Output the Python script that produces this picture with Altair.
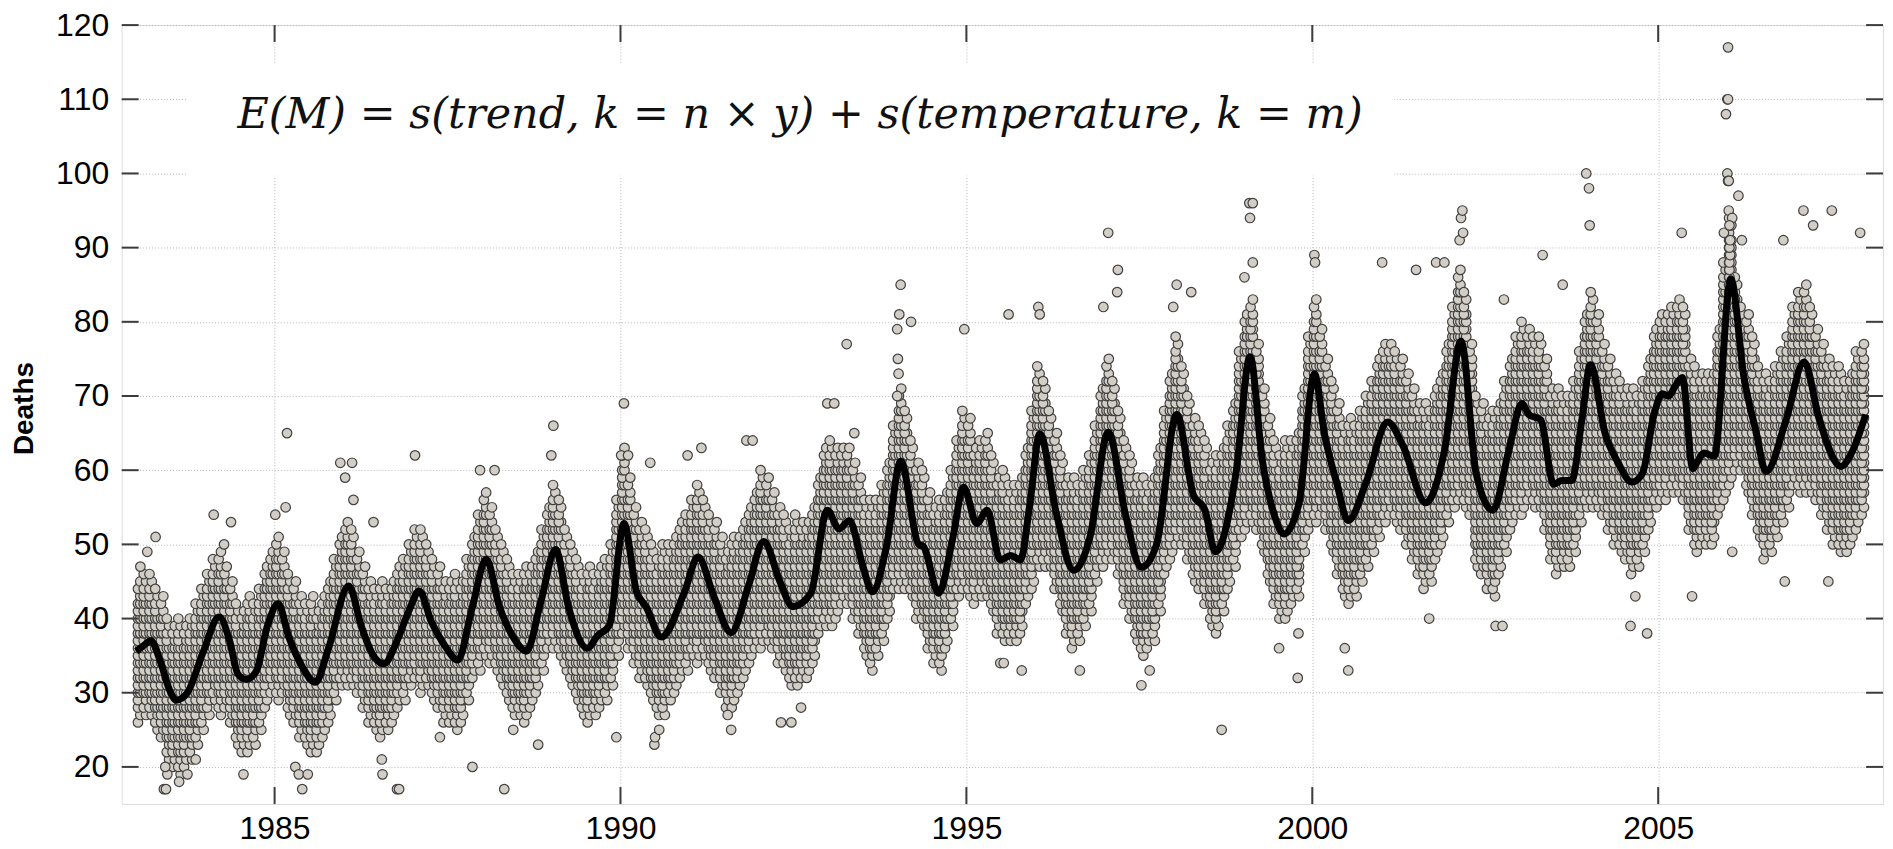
import altair as alt
import pandas as pd

# ---------------- data ----------------
# fitted smooth curve (knots)
line_year = [1983.00, 1983.10, 1983.21, 1983.36, 1983.48, 1983.58, 1983.74, 1983.96, 1984.20, 1984.35,
             1984.47, 1984.59, 1984.73, 1984.90, 1985.05, 1985.21, 1985.40, 1985.59, 1985.78, 1986.07,
             1986.26, 1986.41, 1986.58, 1986.77, 1986.94, 1987.09, 1987.27, 1987.45, 1987.65, 1987.85,
             1988.06, 1988.25, 1988.45, 1988.64, 1988.85, 1989.06, 1989.25, 1989.52, 1989.67, 1989.84,
             1990.05, 1990.23, 1990.37, 1990.59, 1990.93, 1991.12, 1991.35, 1991.60, 1991.85, 1992.07,
             1992.30, 1992.49, 1992.75, 1992.99, 1993.16, 1993.31, 1993.50, 1993.64, 1993.85, 1994.05,
             1994.31, 1994.38, 1994.60, 1994.80, 1994.96, 1995.15, 1995.30, 1995.49, 1995.64, 1995.78,
             1995.92, 1996.06, 1996.30, 1996.55, 1996.79, 1997.05, 1997.30, 1997.53, 1997.75, 1998.04,
             1998.28, 1998.45, 1998.60, 1998.90, 1999.10, 1999.28, 1999.45, 1999.59, 1999.81, 2000.03,
             2000.18, 2000.35, 2000.52, 2000.78, 2001.09, 2001.31, 2001.64, 2001.91, 2002.15, 2002.37,
             2002.61, 2002.84, 2003.03, 2003.13, 2003.30, 2003.49, 2003.61, 2003.75, 2003.90, 2004.02,
             2004.24, 2004.41, 2004.62, 2004.77, 2004.94, 2005.06, 2005.15, 2005.25, 2005.35, 2005.50,
             2005.57, 2005.66, 2005.81, 2006.05, 2006.24, 2006.41, 2006.56, 2006.85, 2007.11, 2007.33,
             2007.64, 2007.81, 2008.00]
line_deaths = [35.6, 36.3, 37.0, 33.9, 30.4, 29.0, 30.0, 35.3, 40.2, 37.0,
               32.5, 31.8, 32.8, 39.1, 42.0, 37.4, 33.5, 31.4, 36.0, 44.4,
               38.8, 35.3, 33.9, 37.0, 41.0, 43.7, 39.5, 36.5, 34.4, 41.2,
               48.0, 41.6, 37.5, 35.6, 42.3, 49.3, 41.5, 36.0, 37.7, 39.1,
               52.8, 43.7, 41.6, 37.5, 43.7, 48.3, 43.0, 38.1, 44.4, 50.4,
               45.1, 41.6, 43.4, 54.6, 52.1, 53.2, 47.2, 43.6, 50.0, 61.2,
               50.0, 49.7, 43.4, 50.7, 57.7, 52.8, 54.6, 47.9, 48.5, 47.9,
               55.6, 64.9, 54.2, 46.5, 51.1, 65.1, 54.0, 46.9, 50.0, 67.5,
               56.7, 54.6, 49.0, 59.8, 75.3, 61.2, 54.0, 51.4, 55.6, 73.0,
               64.7, 58.4, 53.2, 58.4, 66.5, 63.3, 55.6, 62.6, 77.4, 59.5,
               54.6, 62.6, 69.0, 67.5, 66.8, 58.1, 58.6, 58.6, 67.0, 74.2,
               64.7, 61.2, 58.4, 59.5, 67.5, 70.3, 70.0, 71.4, 72.5, 60.2,
               61.2, 62.3, 61.9, 85.8, 72.5, 65.4, 59.8, 66.8, 74.6, 66.8,
               60.5, 62.6, 67.5]

# extent of the cloud of daily counts, month by month (Jan..Dec), 1983-2007
band_lo = [
    26, 27, 27, 25, 24, 21, 20, 19, 20, 21, 23, 25,   # 1983
    27, 29, 27, 28, 26, 23, 22, 22, 23, 25, 28, 30,   # 1984
    29, 30, 27, 26, 24, 23, 22, 22, 24, 26, 29, 31,   # 1985
    31, 31, 30, 28, 26, 25, 24, 25, 26, 28, 29, 31,   # 1986
    32, 30, 31, 29, 28, 26, 26, 25, 26, 29, 32, 33,   # 1987
    35, 34, 33, 31, 29, 27, 27, 26, 28, 30, 33, 36,   # 1988
    36, 35, 33, 31, 29, 27, 26, 27, 28, 29, 31, 35,   # 1989
    38, 36, 34, 32, 31, 29, 27, 27, 29, 30, 32, 33,   # 1990
    35, 34, 35, 33, 32, 30, 28, 28, 30, 32, 34, 36,   # 1991
    36, 37, 36, 34, 33, 31, 31, 32, 32, 34, 38, 39,   # 1992
    39, 40, 42, 42, 40, 38, 35, 33, 35, 37, 40, 44,   # 1993
    44, 44, 43, 40, 39, 36, 34, 33, 36, 39, 43, 44,   # 1994
    43, 42, 43, 43, 41, 38, 37, 37, 37, 38, 42, 44,   # 1995
    47, 47, 47, 44, 41, 38, 36, 37, 39, 41, 45, 47,   # 1996
    48, 48, 46, 42, 40, 37, 35, 36, 37, 41, 46, 48,   # 1997
    50, 50, 48, 45, 44, 42, 39, 38, 41, 44, 47, 51,   # 1998
    52, 53, 52, 49, 45, 42, 40, 40, 42, 43, 49, 52,   # 1999
    53, 54, 52, 49, 46, 43, 42, 43, 45, 47, 49, 51,   # 2000
    53, 54, 53, 52, 50, 48, 46, 44, 45, 48, 50, 53,   # 2001
    55, 56, 55, 54, 47, 46, 44, 43, 46, 49, 52, 54,   # 2002
    54, 56, 55, 55, 52, 48, 46, 47, 47, 49, 53, 55,   # 2003
    55, 55, 54, 52, 50, 49, 48, 46, 47, 49, 52, 55,   # 2004
    56, 56, 57, 57, 56, 52, 49, 50, 50, 50, 54, 56,   # 2005
    58, 60, 60, 57, 54, 51, 48, 49, 51, 53, 55, 58,   # 2006
    57, 57, 57, 56, 54, 52, 50, 49, 49, 50, 52, 54,   # 2007
]
band_hi = [
    45, 46, 46, 44, 43, 40, 39, 40, 39, 40, 42, 44,   # 1983
    46, 48, 49, 47, 45, 42, 41, 43, 42, 44, 47, 49,   # 1984
    51, 49, 46, 45, 43, 42, 43, 41, 43, 45, 48, 51,   # 1985
    53, 52, 49, 47, 45, 44, 45, 44, 45, 47, 48, 50,   # 1986
    52, 52, 50, 48, 47, 45, 45, 46, 45, 48, 51, 54,   # 1987
    57, 55, 52, 50, 48, 46, 46, 47, 47, 49, 52, 55,   # 1988
    58, 56, 52, 50, 48, 46, 47, 46, 47, 48, 50, 56,   # 1989
    63, 59, 55, 53, 52, 50, 48, 50, 50, 51, 53, 54,   # 1990
    56, 58, 56, 54, 53, 51, 49, 51, 51, 53, 55, 57,   # 1991
    60, 59, 57, 55, 54, 52, 54, 53, 53, 55, 59, 63,   # 1992
    64, 63, 63, 63, 61, 59, 56, 56, 56, 58, 61, 66,   # 1993
    71, 68, 64, 61, 60, 57, 55, 56, 57, 60, 64, 68,   # 1994
    67, 63, 64, 65, 62, 59, 60, 58, 58, 59, 63, 68,   # 1995
    74, 72, 68, 65, 62, 59, 59, 58, 60, 62, 66, 71,   # 1996
    75, 72, 68, 64, 62, 59, 59, 58, 59, 63, 68, 73,   # 1997
    78, 74, 70, 67, 66, 64, 61, 62, 63, 66, 69, 76,   # 1998
    81, 83, 77, 71, 67, 64, 62, 64, 64, 65, 71, 78,   # 1999
    83, 79, 75, 72, 69, 66, 67, 66, 68, 70, 72, 75,   # 2000
    77, 77, 76, 75, 73, 71, 69, 69, 68, 71, 73, 77,   # 2001
    82, 87, 84, 77, 70, 69, 67, 68, 69, 72, 75, 78,   # 2002
    80, 79, 78, 78, 75, 71, 71, 70, 70, 72, 76, 81,   # 2003
    84, 81, 77, 75, 73, 72, 71, 71, 70, 72, 75, 79,   # 2004
    81, 81, 82, 83, 82, 75, 74, 73, 73, 73, 79, 88,   # 2005
    94, 86, 82, 81, 78, 74, 73, 72, 74, 76, 78, 82,   # 2006
    84, 85, 82, 79, 77, 75, 74, 74, 72, 73, 76, 77,   # 2007
]

# isolated days outside the cloud
out_year = [1983.06, 1983.16, 1983.28, 1983.40, 1983.43, 1983.45, 1983.42, 1983.62, 1983.74, 1983.86,
            1984.12, 1984.27, 1984.37, 1984.55, 1985.01, 1985.16, 1985.18, 1985.30, 1985.35, 1985.40,
            1985.48, 1985.95, 1986.02, 1986.12, 1986.14, 1986.43, 1986.55, 1986.56, 1986.77, 1986.80,
            1987.03, 1987.39, 1987.86, 1987.97, 1988.18, 1988.32, 1988.45, 1988.81, 1989.00, 1989.03,
            1989.94, 1990.01, 1990.05, 1990.11, 1990.43, 1990.49, 1990.50, 1990.56, 1990.97, 1991.17,
            1991.55, 1991.60, 1991.82, 1991.91, 1992.32, 1992.47, 1992.61, 1992.99, 1993.09, 1993.27,
            1993.38, 1994.00, 1994.01, 1994.02, 1994.00, 1994.03, 1994.05, 1994.20, 1994.97, 1995.49,
            1995.54, 1995.61, 1995.80, 1996.04, 1996.06, 1996.64, 1996.98, 1997.05, 1997.18, 1997.19,
            1997.53, 1997.65, 1997.99, 1998.04, 1998.25, 1998.69, 1999.02, 1999.09, 1999.10, 1999.14,
            1999.14, 1999.52, 1999.79, 1999.80, 2000.03, 2000.04, 2000.47, 2000.52, 2001.01, 2001.50,
            2001.69, 2001.79, 2001.91, 2002.13, 2002.15, 2002.17, 2002.18, 2002.65, 2002.75, 2002.77,
            2003.33, 2003.62, 2003.96, 2004.00, 2004.01, 2004.60, 2004.67, 2004.84, 2005.34, 2005.49,
            2005.95, 2005.98, 2006.00, 2006.01, 2006.00, 2006.01, 2006.02, 2006.01, 2006.02, 2006.07,
            2006.07, 2006.16, 2006.21, 2006.81, 2006.83, 2007.10, 2007.24, 2007.46, 2007.51, 2007.92,
            2006.03, 2006.03, 2006.03, 2006.04, 2006.03, 2006.04, 2006.03]
out_deaths = [47, 49, 51, 17, 17, 19, 20, 18, 19, 21,
              54, 50, 53, 19, 54, 55, 65, 20, 19, 17,
              19, 61, 59, 61, 56, 53, 21, 19, 17, 17,
              62, 24, 20, 60, 60, 17, 25, 23, 62, 66,
              24, 62, 69, 62, 61, 23, 24, 25, 62, 63,
              27, 25, 64, 64, 26, 26, 28, 69, 69, 77,
              65, 79, 75, 73, 70, 81, 85, 80, 79, 34,
              34, 81, 33, 82, 81, 33, 82, 92, 84, 87,
              31, 33, 82, 85, 84, 25, 86, 96, 94, 96,
              88, 36, 32, 38, 89, 88, 36, 33, 88, 87,
              40, 88, 88, 91, 94, 95, 92, 39, 39, 83,
              89, 85, 100, 98, 93, 39, 43, 38, 92, 43,
              92, 108, 110, 110, 100, 99, 99, 117, 95, 94,
              49, 97, 91, 91, 45, 95, 93, 45, 95, 92,
              86, 87, 88, 89, 90, 91, 93]

y_ticks = [20, 30, 40, 50, 60, 70, 80, 90, 100, 110, 120]
x_ticks = [1985, 1990, 1995, 2000, 2005]
formula = "E(M) = s(trend, k = n \u00d7 y) + s(temperature, k = m)"

# ---------------- tables ----------------
rows = []
for i, (lo, hi) in enumerate(zip(band_lo, band_hi)):
    month_start = 1983 + i // 12 + (i % 12) / 12.0
    for v in range(lo, hi + 1):
        # odd and even counts sit on different days of the month
        day = 0.3 if v % 2 == 0 else 0.7
        rows.append((month_start + day / 12.0, v))
        # well inside the cloud the same count occurs on more days
        if lo + 3 <= v <= hi - 3:
            rows.append((month_start + (1.0 - day) / 12.0, v))
pts = pd.DataFrame(rows, columns=["t", "deaths"])
pts = pd.concat([pts, pd.DataFrame({"t": out_year, "deaths": out_deaths})], ignore_index=True)
line_df = pd.DataFrame({"t": line_year, "deaths": line_deaths})
ytk = pd.DataFrame({"deaths": y_ticks})
xtk = pd.DataFrame({"t": x_ticks})

W, H = 1766, 781
xscale = alt.Scale(domain=[1982.79, 2008.25], nice=False, zero=False)
yscale = alt.Scale(domain=[15, 120], nice=False, zero=False)
FONT = "Liberation Sans"

x_axis = alt.Axis(values=x_ticks, format="d", title=None, labelFontSize=32, labelFont=FONT,
                  labelColor="black", labelPadding=10, ticks=False, tickSize=0, domain=False,
                  grid=True, gridColor="#b5b5b5", gridDash=[1, 2], gridWidth=1, labelFlush=False)
y_axis = alt.Axis(values=y_ticks, title="Deaths", labelFontSize=32, labelFont=FONT,
                  labelColor="black", labelPadding=13, ticks=False, tickSize=0, domain=False,
                  grid=True, gridColor="#b5b5b5", gridDash=[1, 2], gridWidth=1, labelFlush=False,
                  titleFont=FONT, titleFontSize=28, titleFontWeight="bold", titleColor="black",
                  titleAngle=270, titleX=-97, titleY=384, titleAlign="center", titleBaseline="middle")

X = alt.X("t:Q", scale=xscale, axis=x_axis)
Y = alt.Y("deaths:Q", scale=yscale, axis=y_axis)

points = alt.Chart(pts).mark_circle(size=92, color="#d2cec6", opacity=1, stroke="#404040",
                                    strokeWidth=1.2).encode(x=X, y=Y)

box = alt.Chart(pd.DataFrame({"k": [0]})).mark_rect(fill="white").encode(
    x=alt.value(65), x2=alt.value(1276), y=alt.value(39), y2=alt.value(151))

curve = alt.Chart(line_df).mark_line(color="black", strokeWidth=7, interpolate="monotone").encode(
    x=X, y=Y)

text = alt.Chart(pd.DataFrame({"label": [formula]})).mark_text(
    align="left", baseline="alphabetic", font="DejaVu Serif", fontStyle="italic",
    fontSize=43, color="#111111").encode(text="label:N", x=alt.value(116), y=alt.value(103))

TK = dict(color="#3c3c3c", strokeWidth=2)
left_t = alt.Chart(ytk).mark_rule(**TK).encode(y=Y, x=alt.value(0), x2=alt.value(17))
right_t = alt.Chart(ytk).mark_rule(**TK).encode(y=Y, x=alt.value(W - 17), x2=alt.value(W))
bottom_t = alt.Chart(xtk).mark_rule(**TK).encode(x=X, y=alt.value(H - 17), y2=alt.value(H))
top_t = alt.Chart(xtk).mark_rule(**TK).encode(x=X, y=alt.value(0), y2=alt.value(17))

chart = alt.layer(points, box, curve, left_t, right_t, bottom_t, top_t, text).properties(
    width=W, height=H,
    autosize=alt.AutoSizeParams(type="none"),
    padding={"left": 114, "top": 16, "right": 2, "bottom": 46},
).configure_view(stroke="#2a2a2a", strokeWidth=1.6).configure(background="white")

chart.save("out.html", embed_options={"renderer": "svg", "actions": False})
